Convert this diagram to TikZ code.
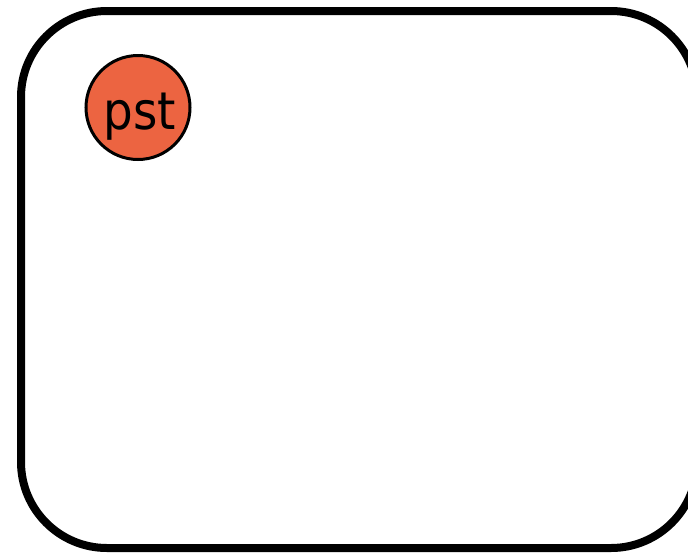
\documentclass[tikz,border=0pt]{standalone}
\usepackage{fontspec}
\newfontfamily\labelfont{DejaVu Sans Condensed}
\definecolor{pstfill}{HTML}{EC6441}
\tikzset{
  frame/.style={line width=8pt, rounded corners=86pt},
  state/.style={circle, draw, line width=3pt, fill=pstfill, minimum size=104pt, inner sep=0pt},
  statelabel/.style={font=\labelfont\fontsize{52}{52}\selectfont, inner sep=0pt, anchor=base}
}
\begin{document}
\begin{tikzpicture}[x=1pt,y=-1pt]
  \useasboundingbox (0,0) rectangle (688,552);
  \clip (0,0) rectangle (688,552);
  % outer container, its right side runs past the page edge
  \draw[frame] (21,11) rectangle (697,548);
  % state circle with its label
  \node[state] (pst) at (138,107.5) {};
  \node[statelabel] (pstlabel) at (140,129) {pst};
\end{tikzpicture}
\end{document}
